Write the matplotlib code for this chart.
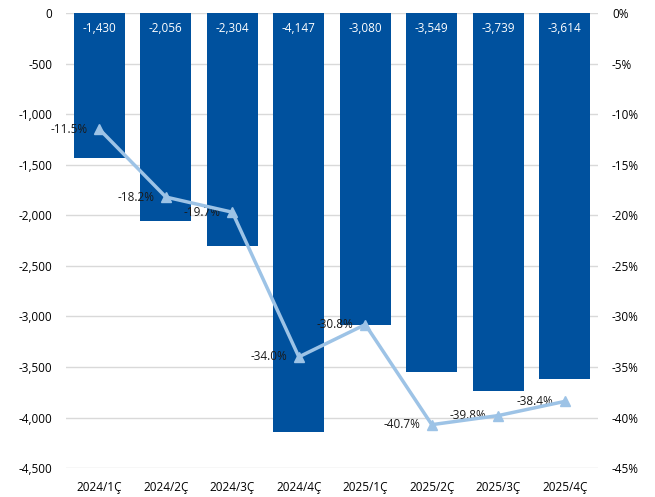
import numpy as np
import matplotlib.pyplot as plt
from matplotlib.ticker import FuncFormatter

quarters = ['2024/1Ç', '2024/2Ç', '2024/3Ç', '2024/4Ç', '2025/1Ç', '2025/2Ç', '2025/3Ç', '2025/4Ç']
net_values = [-1430, -2056, -2304, -4147, -3080, -3549, -3739, -3614]
ratios = [-11.5, -18.2, -19.7, -34.0, -30.8, -40.7, -39.8, -38.4]

bar_color = '#00519E'
line_color = '#9DC3E6'

plt.rcParams['font.family'] = ['Open Sans', 'DejaVu Sans']
plt.rcParams['font.size'] = 8.5

fig = plt.figure(figsize=(6.55, 4.97), dpi=100)
ax = fig.add_axes([0.101, 0.058, 0.812, 0.916])
x = np.arange(len(quarters))

bars = ax.bar(x, net_values, width=0.77, color=bar_color, zorder=2)
for xi, v in zip(x, net_values):
    ax.text(xi, -150, f'{v:,}', ha='center', va='center', color='white', fontsize=8.5, zorder=3)

ax.set_ylim(-4500, 0)
ax.set_xlim(-0.5, len(quarters) - 0.5)
ax.set_yticks(np.arange(-4500, 1, 500))
ax.yaxis.set_major_formatter(FuncFormatter(lambda v, p: f'{int(v):,}'))
ax.grid(axis='y', color='#D9D9D9', linewidth=1, zorder=0)
ax.set_xticks(x)
ax.set_xticklabels(quarters)
ax.tick_params(length=0, pad=9)
ax.tick_params(axis='y', pad=10)
for s in ax.spines.values():
    s.set_visible(False)

# ratio line on the secondary axis, labels to the left of each point
ax2 = ax.twinx()
ax2.plot(x, ratios, color=line_color, linewidth=2.5, marker='^', markersize=6.5, zorder=4)
for xi, r in zip(x, ratios):
    ax2.annotate(f'{r:.1f}%', (xi, r), xytext=(-8.5, 0), textcoords='offset points',
                 ha='right', va='center', fontsize=8.5, color='#1a1a1a')
ax2.set_ylim(-45, 0)
ax2.set_yticks(np.arange(-45, 1, 5))
ax2.yaxis.set_major_formatter(FuncFormatter(lambda v, p: f'{int(v)}%'))
ax2.tick_params(length=0, pad=10)
for s in ax2.spines.values():
    s.set_visible(False)

fig.savefig('out.png', dpi=100)
